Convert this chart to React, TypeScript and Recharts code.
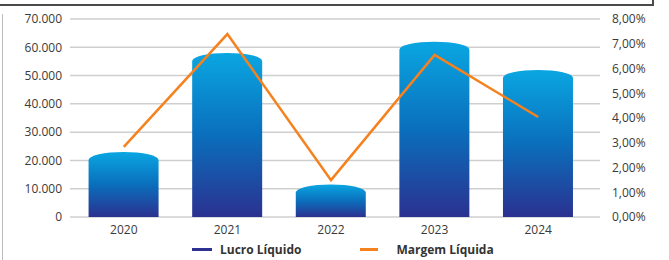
import {
  ComposedChart,
  Bar,
  Line,
  XAxis,
  YAxis,
  CartesianGrid,
  Legend,
} from "recharts";

const years = ["2020", "2021", "2022", "2023", "2024"];
const lucroLiquido = [23000, 58000, 11500, 62000, 52000];
const margemLiquida = [2.83, 7.39, 1.49, 6.55, 4.04];
const leftTicks = [0, 10000, 20000, 30000, 40000, 50000, 60000, 70000];
const rightTicks = [0, 1, 2, 3, 4, 5, 6, 7, 8];

const data = years.map((year, i) => ({
  year,
  lucro: lucroLiquido[i],
  margem: margemLiquida[i],
}));

const NAVY = "#2e3192";
const ORANGE = "#f5821f";
const TICK = { fontSize: 12, fill: "#3a3a3a", fontFamily: "'Open Sans', sans-serif" };

function fmtThousands(v: number): string {
  return String(v).replace(/\B(?=(\d{3})+(?!\d))/g, ".");
}

function fmtPct(v: number): string {
  return v.toFixed(2).replace(".", ",") + "%";
}

// bar with a domed (cylinder-like) top
function DomeBar(props: any) {
  const { x, y, width, height } = props;
  if (!height || height <= 0) return null;
  const d = Math.min(8, height);
  const path = `M${x},${y + height} L${x},${y + d} A${width / 2},${d} 0 0 1 ${x + width},${y + d} L${x + width},${y + height} Z`;
  return <path d={path} fill="url(#barGrad)" />;
}

function LegendContent() {
  const text = {
    fontFamily: "'Open Sans', sans-serif",
    fontWeight: 700,
    fontSize: 12,
    color: "#333",
  };
  return (
    <div style={{ display: "flex", alignItems: "center", marginLeft: 192, height: 20 }}>
      <span style={{ width: 20, height: 3, background: NAVY, display: "inline-block" }} />
      <span style={{ ...text, marginLeft: 8 }}>Lucro Líquido</span>
      <span style={{ width: 18, height: 3, background: ORANGE, display: "inline-block", marginLeft: 59 }} />
      <span style={{ ...text, marginLeft: 18 }}>Margem Líquida</span>
    </div>
  );
}

export default function App() {
  return (
    <div style={{ position: "absolute", left: 0, top: 0, width: 669, height: 260, background: "#fff", overflow: "hidden" }}>
      <div style={{ position: "absolute", left: 0, top: 4, width: 654, height: 2, background: "#4a4a4a" }} />
      <div style={{ position: "absolute", left: 652, top: 0, width: 2, height: 6, background: "#4a4a4a" }} />
      <div style={{ position: "absolute", left: 2, top: 14, width: 1, height: 246, background: "#bbb" }} />
      <ComposedChart
        width={669}
        height={260}
        data={data}
        margin={{ top: 19, right: 0, bottom: 0, left: 0 }}
        barCategoryGap="16%"
      >
        <defs>
          <linearGradient id="barGrad" x1="0" y1="0" x2="0" y2="1">
            <stop offset="0%" stopColor="#0aa6e2" />
            <stop offset="50%" stopColor="#0a6fbc" />
            <stop offset="100%" stopColor="#2b3190" />
          </linearGradient>
        </defs>
        <CartesianGrid yAxisId="left" vertical={false} stroke="#cfcfcf" strokeWidth={1.5} />
        <XAxis
          dataKey="year"
          tick={TICK}
          tickLine={false}
          axisLine={false}
          height={22}
          padding={{ left: 2, right: 10 }}
        />
        <YAxis
          yAxisId="left"
          domain={[0, 70000]}
          ticks={leftTicks}
          tickFormatter={fmtThousands}
          tick={TICK}
          tickLine={false}
          axisLine={false}
          width={70}
          interval={0}
        />
        <YAxis
          yAxisId="right"
          orientation="right"
          domain={[0, 8]}
          ticks={rightTicks}
          tickFormatter={fmtPct}
          tick={{ ...TICK, textAnchor: "start" }}
          tickLine={false}
          axisLine={false}
          tickMargin={6}
          width={69}
          interval={0}
        />
        <Legend content={<LegendContent />} wrapperStyle={{ height: 21 }} />
        <Bar yAxisId="left" dataKey="lucro" name="Lucro Líquido" shape={<DomeBar />} isAnimationActive={false} />
        <Line
          yAxisId="right"
          dataKey="margem"
          name="Margem Líquida"
          type="linear"
          stroke={ORANGE}
          strokeWidth={2.5}
          dot={false}
          isAnimationActive={false}
        />
      </ComposedChart>
    </div>
  );
}
